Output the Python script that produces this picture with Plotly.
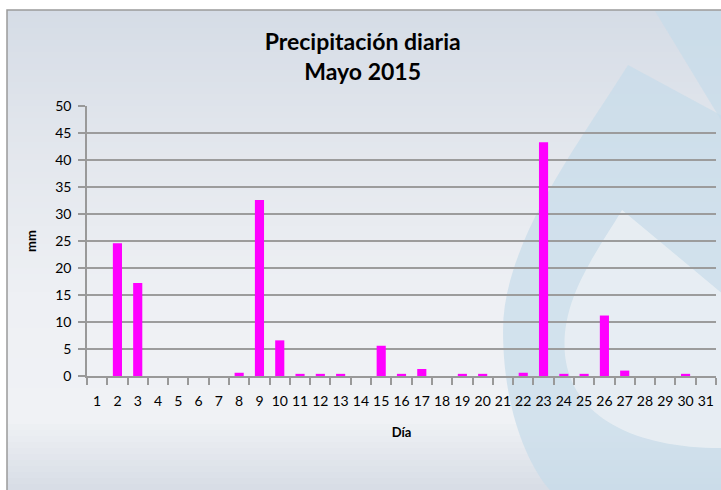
import plotly.graph_objects as go

dias = [str(d) for d in range(1, 32)]
precip_mm = [0, 24.6, 17.2, 0, 0, 0, 0, 0.6, 32.6, 6.6,
             0.4, 0.4, 0.4, 0, 5.6, 0.4, 1.3, 0, 0.4, 0.4,
             0, 0.6, 43.3, 0.4, 0.4, 11.2, 1.0, 0, 0, 0.4, 0]
y_ticks = list(range(0, 55, 5))

titulo = "<b>Precipitación diaria</b><br><b>Mayo 2015</b>"
x_titulo = "<b>Día</b>"
y_titulo = "<b>mm</b>"

W, H = 721, 490
L, R, T, B = 87, 716, 106, 376

def px(x):
    return (x - L) / (R - L)

def py(y):
    return (B - y) / (B - T)

def path(points_cmd):
    out = []
    for tok in points_cmd:
        if isinstance(tok, str):
            out.append(tok)
        else:
            out.append(f"{px(tok[0]):.4f},{py(tok[1]):.4f}")
    return " ".join(out)

def hex2rgb(h):
    h = h.lstrip("#")
    return [int(h[i:i + 2], 16) for i in (0, 2, 4)]

def lerp_col(stops, y):
    for (y0, c0), (y1, c1) in zip(stops, stops[1:]):
        if y0 <= y <= y1:
            t = (y - y0) / (y1 - y0)
            a, b = hex2rgb(c0), hex2rgb(c1)
            return "rgb(%d,%d,%d)" % tuple(round(a[i] + (b[i] - a[i]) * t) for i in range(3))
    return stops[-1][1]

fig = go.Figure()
fig.add_trace(go.Bar(x=dias, y=precip_mm, marker=dict(color="#ff00ff", line=dict(width=0))))

shapes = []
# vertical gradient background
stops = [(10, "#d5dce6"), (150, "#e3e7ed"), (300, "#eef0f4"), (420, "#f0f2f5"), (500, "#d3d9e3")]
step = 6
for y in range(10, 500, step):
    shapes.append(dict(type="rect", xref="paper", yref="paper", x0=px(7), x1=px(730),
                       y0=py(y), y1=py(y + step + 1), fillcolor=lerp_col(stops, y + step / 2),
                       line=dict(width=0), layer="below"))
# outer drop
shapes.append(dict(type="path", xref="paper", yref="paper",
                   path=path(["M", (628, 65), "C", (585, 135), (503, 240), (503, 330),
                              "C", (503, 420), (535, 480), (560, 500), "L", (730, 500), "L", (730, 120), "Z"]),
                   fillcolor="#c6dbea", opacity=0.7, line=dict(width=0), layer="below"))
# inner light drop
shapes.append(dict(type="path", xref="paper", yref="paper",
                   path=path(["M", (622, 210), "C", (595, 255), (560, 300), (565, 355),
                              "C", (572, 420), (640, 450), (730, 448), "L", (730, 300), "Z"]),
                   fillcolor="#e9eef3", opacity=0.9, line=dict(width=0), layer="below"))
# top right band
shapes.append(dict(type="path", xref="paper", yref="paper",
                   path=path(["M", (655, 11), "L", (730, 11), "L", (730, 135), "Z"]),
                   fillcolor="#c6dbea", opacity=0.7, line=dict(width=0), layer="below"))
# border
shapes.append(dict(type="rect", xref="paper", yref="paper", x0=px(7), x1=px(730), y0=py(10), y1=py(500),
                   fillcolor="rgba(0,0,0,0)", line=dict(color="#9a9a9a", width=1.5), layer="below"))

fig.update_layout(
    width=W, height=H,
    margin=dict(l=L, r=W - R, t=T, b=H - B, pad=0),
    paper_bgcolor="white", plot_bgcolor="rgba(0,0,0,0)",
    font=dict(family="Lato, Calibri, sans-serif", color="black", size=14),
    title=dict(text=titulo, x=0.503, xref="container", xanchor="center", y=1 - 50 / H, yref="container",
               yanchor="middle", font=dict(size=23, color="black")),
    showlegend=False,
    bargap=0.55,
    shapes=shapes,
    xaxis=dict(type="category", tickson="boundaries", ticks="outside", ticklen=7, tickcolor="#999999",
               tickwidth=1.5, showline=True, linecolor="#999999", linewidth=1.5, showgrid=False,
               tickangle=0, automargin=False,
               tickfont=dict(size=14), ticklabelstandoff=11,
               title=dict(text=x_titulo, font=dict(size=13), standoff=20)),
    yaxis=dict(range=[0, 50], tickvals=y_ticks, ticks="outside", ticklen=7, tickcolor="#999999",
               tickwidth=1.5, showline=True, linecolor="#999999", linewidth=1.5, automargin=False,
               showgrid=True, gridcolor="#9c9c9c", gridwidth=1.5, zeroline=False,
               tickfont=dict(size=14), ticklabelstandoff=4,
               title=dict(text=y_titulo, font=dict(size=13), standoff=16)),
)

fig.write_html("out.html", config={"displayModeBar": False},
               post_script="document.body.style.margin='0';document.body.style.overflow='hidden';")
